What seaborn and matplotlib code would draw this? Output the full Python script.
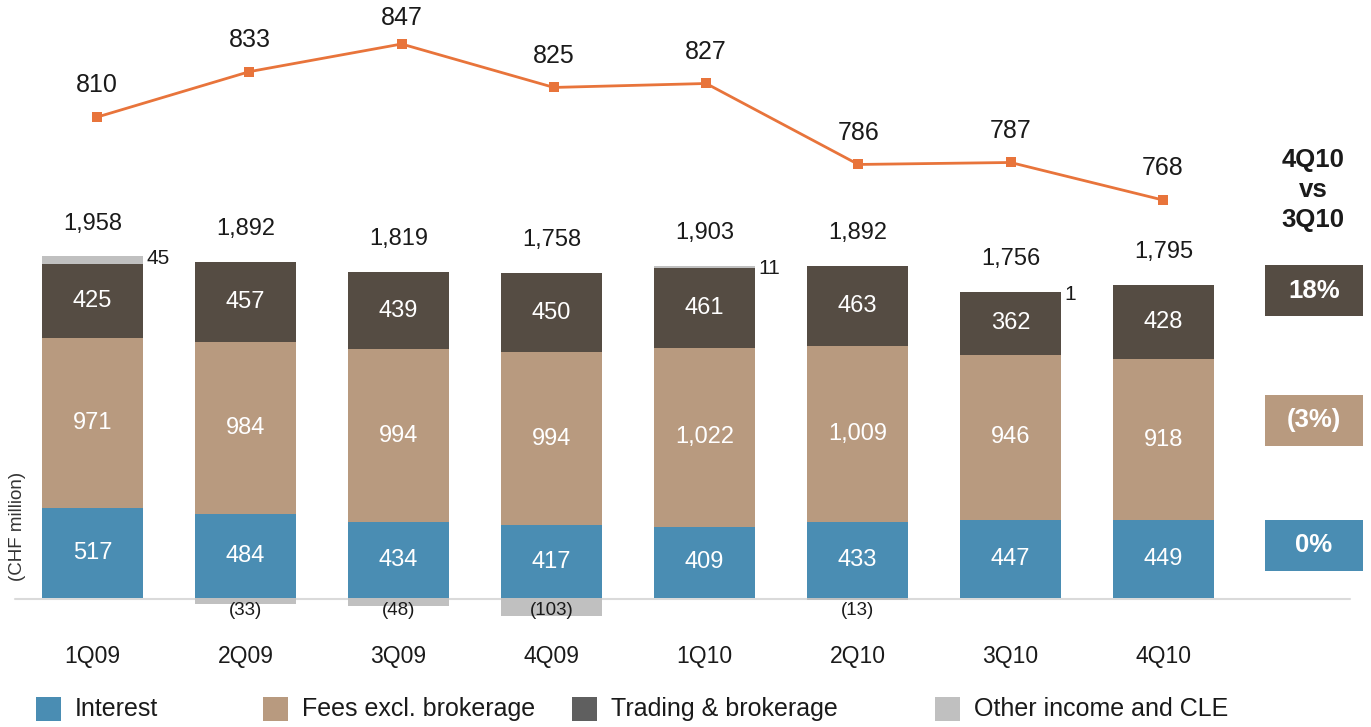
import matplotlib
matplotlib.use("Agg")
import matplotlib.pyplot as plt
from matplotlib.patches import Rectangle
from matplotlib.lines import Line2D
import seaborn as sns
import numpy as np
import pandas as pd

quarters = ["1Q09", "2Q09", "3Q09", "4Q09", "1Q10", "2Q10", "3Q10", "4Q10"]
interest = [517, 484, 434, 417, 409, 433, 447, 449]
fees = [971, 984, 994, 994, 1022, 1009, 946, 918]
trading = [425, 457, 439, 450, 461, 463, 362, 428]
other = [45, -33, -48, -103, 11, -13, 1, 0]
totals = [1958, 1892, 1819, 1758, 1903, 1892, 1756, 1795]
line_vals = [810, 833, 847, 825, 827, 786, 787, 768]
change_labels = ["18%", "(3%)", "0%"]
legend_labels = ["Interest", "Fees excl. brokerage", "Trading & brokerage", "Other income and CLE"]

C_INT = "#4A8DB3"
C_FEE = "#B89A7F"
C_TRD = "#554C43"
C_OTH = "#C0C0C0"
C_LINE = "#E8743B"
C_LEG_TRD = "#5F5F5F"
TXT = "#1a1a1a"

sns.set_theme(style="white")
plt.rcParams["font.family"] = ["Liberation Sans", "DejaVu Sans"]

W, H = 1371, 727
fig = plt.figure(figsize=(W / 100, H / 100), dpi=100)

def fx(px):
    return px / W

def fy(py):
    return 1 - py / H

# bar axes
left_px, right_px = 16, 1240
ylo, yhi = -150, 2200
scale = 0.1745
bot_px = 598 + (-ylo) * scale
top_px = 598 - yhi * scale
axb = fig.add_axes([fx(left_px), fy(bot_px), fx(right_px - left_px), (bot_px - top_px) / H])
axb.patch.set_alpha(0)

i_arr = np.array(interest)
f_arr = np.array(fees)
t_arr = np.array(trading)
o_arr = np.array(other)
pos_top = i_arr + f_arr + t_arr

df = pd.DataFrame({
    "q": quarters,
    "oth_pos": pos_top + np.clip(o_arr, 0, None),
    "trd": pos_top,
    "fee": i_arr + f_arr,
    "int": i_arr,
    "oth_neg": np.clip(o_arr, None, 0),
})
bw = 0.665
for col, c in [("oth_pos", C_OTH), ("trd", C_TRD), ("fee", C_FEE), ("int", C_INT), ("oth_neg", C_OTH)]:
    sns.barplot(data=df, x="q", y=col, color=c, width=bw, ax=axb, saturation=1, linewidth=0, order=quarters)

axb.set_xlim(-0.5, 7.5)
axb.set_ylim(ylo, yhi)
for s in axb.spines.values():
    s.set_visible(False)
axb.set_yticks([])
axb.set_ylabel("")
axb.set_xlabel("")
axb.tick_params(axis="x", length=0, pad=15, labelsize=16.5, labelcolor=TXT)

# segment labels
for k in range(len(quarters)):
    axb.text(k, interest[k] / 2, f"{interest[k]:,}", ha="center", va="center", color="white", fontsize=17)
    axb.text(k, interest[k] + fees[k] / 2, f"{fees[k]:,}", ha="center", va="center", color="white", fontsize=17)
    axb.text(k, interest[k] + fees[k] + trading[k] / 2, f"{trading[k]:,}", ha="center", va="center", color="white", fontsize=17)
    top = pos_top[k] + max(other[k], 0)
    axb.text(k, top + 125, f"{totals[k]:,}", ha="center", va="bottom", color=TXT, fontsize=17)
    if other[k] > 0:
        axb.text(k + bw / 2 + 0.02, top - 15, f"{other[k]}", ha="left", va="center", color=TXT, fontsize=15)
    elif other[k] < 0:
        axb.text(k, -25, f"({-other[k]})", ha="center", va="top", color=TXT, fontsize=13.5)

# baseline
fig.add_artist(Line2D([fx(15), fx(1350)], [fy(598.5), fy(598.5)], color="#DADADA", lw=1.5, zorder=0))

# CHF million label
fig.text(fx(18), fy(526), "(CHF million)", rotation=90, ha="center", va="center", fontsize=13.5, color="#333333")

# line axes
l_lo, l_hi = 750, 860
lscale = 1.975
lbot = 200 + (768 - l_lo) * lscale
ltop = 44 - (l_hi - 847) * lscale
axl = fig.add_axes([fx(21), fy(lbot), fx(1218), (lbot - ltop) / H])
axl.patch.set_alpha(0)
ldf = pd.DataFrame({"x": np.arange(len(quarters)), "v": line_vals})
sns.lineplot(data=ldf, x="x", y="v", ax=axl, color=C_LINE, lw=2, marker="s", markersize=7,
             markeredgewidth=0, markerfacecolor=C_LINE)
axl.set_xlim(-0.5, 7.5)
axl.set_ylim(l_lo, l_hi)
axl.axis("off")
for k, v in enumerate(line_vals):
    axl.text(k, min(v + 10, 854), f"{v}", ha="center", va="bottom", fontsize=18, color=TXT, clip_on=False)

# right comparison panel
for yy, t in [(160, "4Q10"), (190, "vs"), (220, "3Q10")]:
    fig.text(fx(1313), fy(yy), t, ha="center", va="center", fontsize=18.5, fontweight="bold", color=TXT)
boxes = [(265, C_TRD), (395, C_FEE), (520, C_INT)]
for (ytop, col), lab in zip(boxes, change_labels):
    fig.add_artist(Rectangle((fx(1265), fy(ytop + 51)), fx(98), 51 / H, transform=fig.transFigure,
                             facecolor=col, edgecolor="none"))
    fig.text(fx(1314), fy(ytop + 25.5), lab, ha="center", va="center", fontsize=18.5,
             fontweight="bold", color="white")

# legend
leg_items = [(36, C_INT), (263, C_FEE), (572, C_LEG_TRD), (935, C_OTH)]
for (xp, col), lab in zip(leg_items, legend_labels):
    fig.add_artist(Rectangle((fx(xp), fy(721)), fx(25), 24 / H, transform=fig.transFigure,
                             facecolor=col, edgecolor="none"))
    fig.text(fx(xp + 39), fy(709), lab, ha="left", va="center", fontsize=18, color=TXT)

fig.savefig("out.png", dpi=100)
